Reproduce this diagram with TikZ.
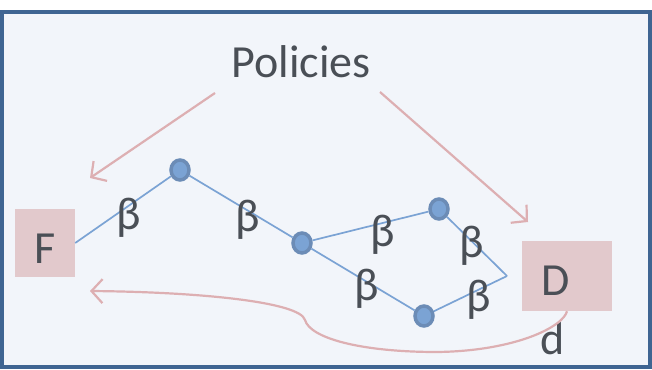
\documentclass[tikz,border=0pt]{standalone}
\usepackage{fontspec}
\setmainfont{Carlito}
\usetikzlibrary{arrows.meta,shapes.geometric}
\definecolor{panelbg}{HTML}{F2F5FA}
\definecolor{panelframe}{HTML}{3F6592}
\definecolor{boxpink}{HTML}{E2C9CC}
\definecolor{arrowpink}{HTML}{DDAFB2}
\definecolor{edgeblue}{HTML}{7BA3D4}
\definecolor{dotrim}{HTML}{6C8CB6}
\definecolor{inkgrey}{HTML}{4A4F56}
\tikzset{
  lbl/.style={inner sep=0pt, text=inkgrey, font=\fontsize{46}{46}\selectfont},
  statebox/.style={fill=boxpink, draw=none, inner sep=0pt},
  dot/.style={ellipse, fill=edgeblue, draw=dotrim, line width=3.5pt, minimum width=18pt, minimum height=20pt, inner sep=0pt},
  edge/.style={draw=edgeblue, line width=1.7pt},
  pointer/.style={draw=arrowpink, line width=2.2pt, -{Straight Barb[length=11pt,width=24pt,line width=2.2pt]}}
}
\begin{document}
\begin{tikzpicture}[x=1pt,y=-1pt]
  \useasboundingbox (0,0) rectangle (652,369);
  % panel
  \fill[white] (0,0) rectangle (652,369);
  \draw[fill=panelbg, draw=panelframe, line width=4pt] (2,12) rectangle (650,367);

  % state boxes
  \node[statebox, minimum width=60pt, minimum height=68pt] (F) at (45,243) {};
  \node[lbl, anchor=base] (Flbl) at (45,263) {F};
  \node[statebox, minimum width=90pt, minimum height=70pt] (D) at (567,276) {};
  \node[lbl, anchor=base] (Dlbl) at (556,295) {D};
  \node[lbl, anchor=base] (dlbl) at (553,354) {d};

  % title
  \node[lbl, anchor=base] (pol) at (301,77) {Policies};
  \coordinate (polL) at (215,93);
  \coordinate (polR) at (380,92);
  \coordinate (tipF) at (90,178);
  \coordinate (tipD) at (528,222);

  % lattice of policy steps
  \coordinate (join) at (507,276);
  \node[dot] (n1) at (180,170) {};
  \node[dot] (n2) at (302,243) {};
  \node[dot] (n3) at (439,209) {};
  \node[dot] (n4) at (424,316) {};
  \draw[edge] (F.east) -- (n1);
  \draw[edge] (n1) -- (n2);
  \draw[edge] (n2) -- (n3);
  \draw[edge] (n2) -- (n4);
  \draw[edge] (n3) -- (join);
  \draw[edge] (n4) -- (join);

  % step labels
  \node[lbl] (b1) at (129,218) {β};
  \node[lbl] (b2) at (248,220) {β};
  \node[lbl] (b3) at (383,235) {β};
  \node[lbl] (b4) at (367,289) {β};
  \node[lbl] (b5) at (472,246) {β};
  \node[lbl] (b6) at (479,300) {β};

  % policy pointers
  \draw[pointer] (polL) -- (tipF);
  \draw[pointer] (polR) -- (tipD);

  % return path from D back to F
  \coordinate (back) at (90,291);
  \draw[pointer] (D.south) .. controls (563,327) and (515,351) .. (437,352)
     .. controls (360,352) and (310,338) .. (305,320)
     .. controls (300,302) and (200,292) .. (back);
\end{tikzpicture}
\end{document}
